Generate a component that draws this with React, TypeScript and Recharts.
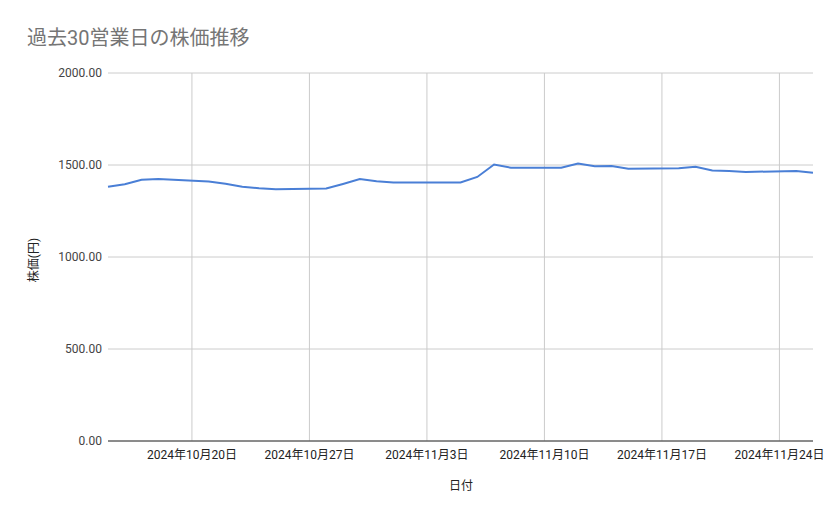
import { LineChart, Line, XAxis, YAxis, CartesianGrid } from "recharts";

const dates = [
  "2024-10-15", "2024-10-16", "2024-10-17", "2024-10-18",
  "2024-10-21", "2024-10-22", "2024-10-23", "2024-10-24", "2024-10-25",
  "2024-10-28", "2024-10-29", "2024-10-30", "2024-10-31", "2024-11-01",
  "2024-11-05", "2024-11-06", "2024-11-07", "2024-11-08",
  "2024-11-11", "2024-11-12", "2024-11-13", "2024-11-14", "2024-11-15",
  "2024-11-18", "2024-11-19", "2024-11-20", "2024-11-21", "2024-11-22",
  "2024-11-25", "2024-11-26",
];

const prices = [
  1382, 1395, 1420, 1424,
  1410, 1398, 1382, 1373, 1368,
  1372, 1397, 1424, 1412, 1405,
  1405, 1435, 1503, 1485,
  1485, 1508, 1493, 1495, 1480,
  1482, 1490, 1470, 1467, 1462,
  1468, 1458,
];

const xTicks = ["2024-10-20", "2024-10-27", "2024-11-03", "2024-11-10", "2024-11-17", "2024-11-24"];
const xDomain = ["2024-10-15", "2024-11-26"];
const yTicks = [0, 500, 1000, 1500, 2000];

const TITLE = "過去30営業日の株価推移";
const X_TITLE = "日付";
const Y_TITLE = "株価(円)";

const FONT = "Roboto, 'Noto Sans CJK JP', sans-serif";

const toMs = (s: string) => Date.parse(s + "T00:00:00Z");

const data = dates.map((d, i) => ({ t: toMs(d), price: prices[i] }));

const fmtDate = (ms: number) => {
  const d = new Date(ms);
  return `${d.getUTCFullYear()}年${d.getUTCMonth() + 1}月${d.getUTCDate()}日`;
};

// vertical grid lines only at the weekly ticks (none at the plot edges)
const verticalLines = (props: any) => {
  const scale = props?.xAxis?.scale;
  if (typeof scale === "function") {
    return xTicks.map((t) => scale(toMs(t)));
  }
  const off = props?.offset ?? {};
  const [d0, d1] = xDomain.map(toMs);
  return xTicks.map((t) => off.left + ((toMs(t) - d0) / (d1 - d0)) * off.width);
};

export default function App() {
  return (
    <div
      style={{
        position: "absolute",
        left: 0,
        top: 0,
        width: 839,
        height: 519,
        background: "#fff",
        fontFamily: FONT,
      }}
    >
      <div
        style={{
          position: "absolute",
          left: 27,
          top: 28,
          fontSize: 20,
          lineHeight: "20px",
          color: "#757575",
          whiteSpace: "nowrap",
        }}
      >
        {TITLE}
      </div>
      <div
        style={{
          position: "absolute",
          left: 34,
          top: 260,
          fontSize: 12,
          lineHeight: "12px",
          color: "#222",
          whiteSpace: "nowrap",
          transform: "translate(-50%, -50%) rotate(-90deg)",
        }}
      >
        {Y_TITLE}
      </div>
      <div
        style={{
          position: "absolute",
          left: 461,
          top: 486,
          fontSize: 12,
          lineHeight: "12px",
          color: "#222",
          whiteSpace: "nowrap",
          transform: "translate(-50%, -50%)",
        }}
      >
        {X_TITLE}
      </div>
      <LineChart
        width={839}
        height={519}
        data={data}
        margin={{ top: 73, right: 26, bottom: 0, left: 0 }}
        style={{ position: "absolute", left: 0, top: 0 }}
      >
        <CartesianGrid
          stroke="#cccccc"
          strokeWidth={1}
          verticalCoordinatesGenerator={verticalLines}
        />
        <XAxis
          dataKey="t"
          type="number"
          domain={xDomain.map(toMs)}
          ticks={xTicks.map(toMs)}
          tickFormatter={fmtDate}
          interval={0}
          height={78}
          tickLine={false}
          tickSize={0}
          tickMargin={9}
          axisLine={{ stroke: "#333333", strokeWidth: 1 }}
          tick={{ fill: "#222", fontSize: 12, fontFamily: FONT }}
        />
        <YAxis
          domain={[0, 2000]}
          ticks={yTicks}
          tickFormatter={(v: number) => v.toFixed(2)}
          width={108}
          axisLine={false}
          tickLine={false}
          tickSize={0}
          tickMargin={6}
          tick={{ fill: "#444", fontSize: 12, fontFamily: FONT }}
        />
        <Line
          type="linear"
          dataKey="price"
          stroke="#4a7fd6"
          strokeWidth={2}
          dot={false}
          isAnimationActive={false}
        />
      </LineChart>
    </div>
  );
}
